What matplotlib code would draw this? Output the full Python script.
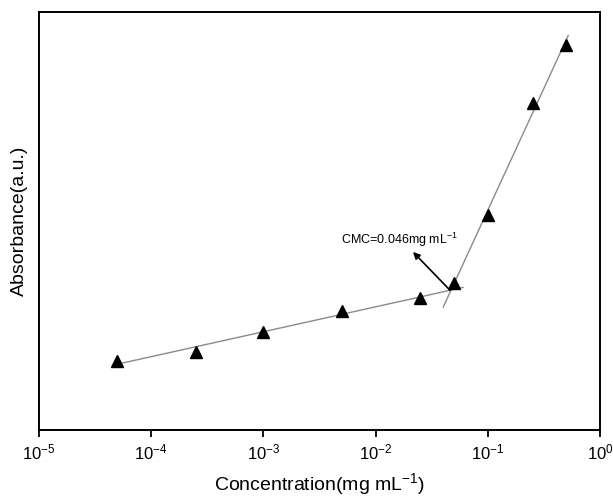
import matplotlib.pyplot as plt
import numpy as np

plt.rcParams['font.family'] = ['Liberation Sans', 'DejaVu Sans']
plt.rcParams['mathtext.fontset'] = 'custom'
plt.rcParams['mathtext.rm'] = 'Liberation Sans'
plt.rcParams['mathtext.it'] = 'Liberation Sans'

# concentration (mg/mL) and absorbance (a.u.)
conc = [5e-5, 2.5e-4, 1e-3, 5e-3, 2.5e-2, 5e-2, 0.1, 0.25, 0.5]
absorb = [0.165, 0.187, 0.234, 0.285, 0.316, 0.352, 0.514, 0.782, 0.921]

# points used for the two linear fits (log x) and how far each line is drawn
low_idx = [0, 1, 2, 3, 4]
high_idx = [5, 6, 7, 8]
low_span = [5.3e-5, 0.06]
high_span = [0.04, 0.52]
cmc = 0.046
label_head = (0.0215, 0.426)
label_pos = (0.0049, 0.445)

x = np.array(conc)
y = np.array(absorb)
p_low = np.polyfit(np.log10(x[low_idx]), y[low_idx], 1)
p_high = np.polyfit(np.log10(x[high_idx]), y[high_idx], 1)

fig = plt.figure(figsize=(6.13, 4.96), dpi=100)
ax = fig.add_axes([0.0636, 0.133, 0.9154, 0.843])

xs = np.array(low_span)
ax.plot(xs, np.polyval(p_low, np.log10(xs)), color='#8a8a8a', lw=1.0)
xs = np.array(high_span)
ax.plot(xs, np.polyval(p_high, np.log10(xs)), color='#8a8a8a', lw=1.0)

ax.plot(conc, absorb, '^', color='black', ms=8, ls='none')

tail = (cmc, np.polyval(p_low, np.log10(cmc)))
ax.annotate('', xy=label_head, xytext=tail,
            arrowprops=dict(arrowstyle='-|>', color='black', lw=1.2,
                            mutation_scale=10, shrinkA=0, shrinkB=0))
ax.text(label_pos[0], label_pos[1], 'CMC=0.046mg mL$^{-1}$', fontsize=9,
        va='baseline', ha='left')

ax.set_xscale('log')
ax.set_xlim(1e-5, 1)
ax.set_ylim(0, 1)
ax.set_xticks([1e-5, 1e-4, 1e-3, 1e-2, 1e-1, 1])
ax.set_xticklabels(['$10^{-5}$', '$10^{-4}$', '$10^{-3}$', '$10^{-2}$',
                    '$10^{-1}$', '$10^{0}$'])
ax.minorticks_off()
ax.set_yticks([])
ax.tick_params(axis='x', direction='out', length=5, width=1.3, labelsize=12, pad=4)
for s in ax.spines.values():
    s.set_linewidth(1.4)

ax.set_xlabel('Concentration(mg mL$^{-1}$)', fontsize=14, labelpad=6)
ax.set_ylabel('Absorbance(a.u.)', fontsize=14, labelpad=8)

fig.savefig('out.png', dpi=100)
